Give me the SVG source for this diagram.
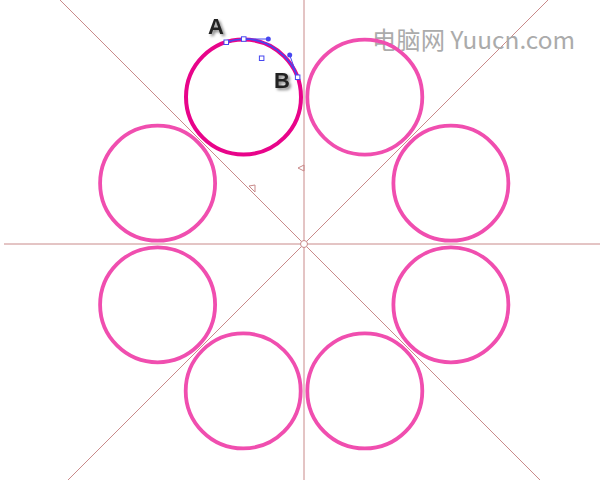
<svg xmlns="http://www.w3.org/2000/svg" width="600" height="480" viewBox="0 0 600 480">
<style>
.guide{stroke:#c98a8a;stroke-width:1;fill:none}
.ring{fill:none;stroke:#f04eaf;stroke-width:3.8}
.sel{fill:none;stroke:#e8048a;stroke-width:4}
.pt{fill:#fff;stroke:#4646f0;stroke-width:1}
.hd{fill:#4646f0}
.lbl{font-family:"Liberation Sans",Arial,sans-serif;font-weight:bold;font-size:22px;fill:#222}
.wm{font-family:"Noto Sans CJK SC","Noto Sans",sans-serif;font-size:24px;fill:#ababab}
</style>
<defs>
<filter id="sh" x="-30%" y="-30%" width="160%" height="160%">
<feGaussianBlur in="SourceAlpha" stdDeviation="1.5"/>
<feOffset dx="1.5" dy="1.5" result="b"/>
<feComponentTransfer><feFuncA type="linear" slope="0.5"/></feComponentTransfer>
<feMerge><feMergeNode/><feMergeNode in="SourceGraphic"/></feMerge>
</filter>
</defs>
<rect width="600" height="480" fill="#fff"/>
<g id="guides">
<line class="guide" x1="304" y1="0" x2="304" y2="480"/>
<line class="guide" x1="4" y1="244" x2="600" y2="244"/>
<line class="guide" x1="60" y1="0" x2="540" y2="480"/>
<line class="guide" x1="548" y1="0" x2="68" y2="480"/>
<circle cx="304" cy="244" r="3.5" fill="#fff" stroke="#c98a8a"/>
<polygon class="guide" points="304,165 298,168 304,171"/>
<polygon class="guide" points="249,186 255,185 255,192"/>
</g>
<text class="wm" x="372" y="49" textLength="203" lengthAdjust="spacingAndGlyphs">电脑网 Yuucn.com</text>
<g id="rings">
<circle class="ring" cx="364.8" cy="97.1" r="57.5"/>
<circle class="ring" cx="450.9" cy="183.2" r="57.5"/>
<circle class="ring" cx="450.9" cy="304.8" r="57.5"/>
<circle class="ring" cx="364.8" cy="390.9" r="57.5"/>
<circle class="ring" cx="243.2" cy="390.9" r="57.5"/>
<circle class="ring" cx="157.6" cy="304.8" r="57.5"/>
<circle class="ring" cx="157.6" cy="183.2" r="57.5"/>
</g>
<g id="selected">
<circle class="sel" cx="243.5" cy="97" r="57.5"/>
</g>
<g id="path-edit">
<path d="M226.3,42.3 Q234,39.5 243.7,39 C268.3,39 289.7,55 297.7,77.3" fill="none" stroke="#4646f0" stroke-width="1.6"/>
<line x1="243.7" y1="39" x2="268.3" y2="39" stroke="#4646f0" stroke-width="1"/>
<line x1="289.7" y1="55" x2="297.7" y2="77.3" stroke="#4646f0" stroke-width="1"/>
<circle class="hd" cx="268.3" cy="39" r="2.5"/>
<circle class="hd" cx="289.7" cy="55" r="2.5"/>
<rect class="pt" x="224" y="40" width="4.5" height="4.5"/>
<rect class="pt" x="241.5" y="36.8" width="4.5" height="4.5"/>
<rect class="pt" x="259.4" y="56" width="4.5" height="4.5"/>
<rect class="pt" x="295.4" y="75" width="4.5" height="4.5"/>
</g>
<g id="labels" filter="url(#sh)">
<text class="lbl" x="208" y="34">A</text>
<text class="lbl" x="274" y="88">B</text>
</g>
</svg>
